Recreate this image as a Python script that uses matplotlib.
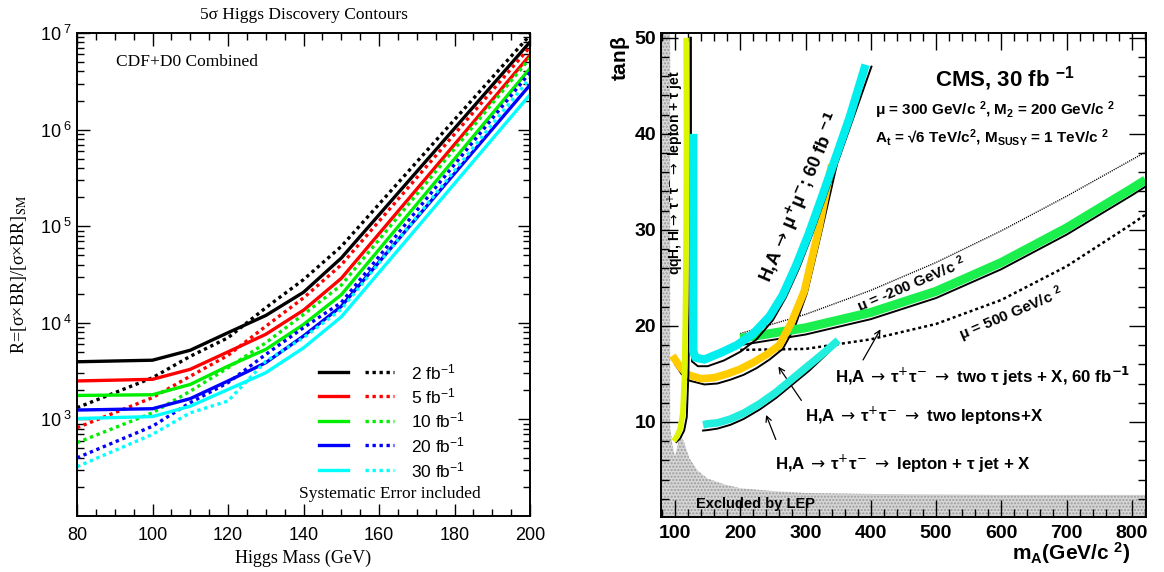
import matplotlib
matplotlib.use('Agg')
import matplotlib.pyplot as plt
import numpy as np
from matplotlib.ticker import MultipleLocator, FixedLocator, LogLocator, NullFormatter, FuncFormatter
from matplotlib.patches import Polygon

plt.rcParams['mathtext.fontset'] = 'custom'
plt.rcParams['mathtext.rm'] = 'Liberation Sans'
plt.rcParams['mathtext.it'] = 'Liberation Sans:italic'
plt.rcParams['mathtext.bf'] = 'Liberation Sans:bold'
plt.rcParams['font.family'] = ['Liberation Sans', 'DejaVu Sans']

# ---------------- Left panel data (Tevatron) ----------------
mass = [80, 100, 110, 120, 130, 140, 150, 200]
lumi_labels = ['2', '5', '10', '20', '30']
series_colors = ['black', '#ff0000', '#00ee00', '#0000ff', '#00ffff']
R_solid_2 = [3950, 4100, 5200, 7900, 11900, 20700, 46800, 8.07e6]
R_dot_2 = [1320, 2700, 4500, 7000, 14300, 28000, 61700, 9.5e6]
R_solid_5 = [2500, 2600, 3300, 5000, 7600, 13500, 28800, 5.9e6]
R_dot_5 = [820, 1680, 2800, 4600, 9200, 18100, 39800, 7.16e6]
R_solid_10 = [1770, 1800, 2300, 3560, 5300, 9600, 19500, 4.3e6]
R_dot_10 = [574, 1170, 1960, 3420, 6200, 12200, 24500, 5.5e6]
R_solid_20 = [1250, 1290, 1640, 2500, 3860, 7300, 14800, 2.9e6]
R_dot_20 = [400, 850, 1490, 2400, 4700, 8900, 16200, 3.9e6]
R_solid_30 = [1020, 1070, 1370, 2040, 3040, 5500, 11500, 2.3e6]
R_dot_30 = [324, 700, 1170, 1550, 4000, 7000, 13800, 3.4e6]
solid_series = [R_solid_2, R_solid_5, R_solid_10, R_solid_20, R_solid_30]
dot_series = [R_dot_2, R_dot_5, R_dot_10, R_dot_20, R_dot_30]

# ---------------- Right panel data (CMS) ----------------
# LEP excluded region boundary
lep_mA = [78.5, 92.5, 92.5, 96, 100, 104, 108, 114, 122, 135, 150, 175, 200, 250, 300, 400, 500, 600, 700, 821, 821, 78.5]
lep_tb = [50.5, 50.5, 9.5, 7.6, 6.4, 7.6, 8.6, 7.9, 6.2, 4.9, 4.1, 3.5, 3.1, 2.8, 2.6, 2.5, 2.45, 2.4, 2.4, 2.4, 0.15, 0.15]
# qqH, H -> tau tau -> lepton + tau jet
qqh_mA = [117, 117.5, 117, 116, 114.5, 112, 108, 103, 98]
qqh_tb = [50, 40, 30, 22, 15, 11, 9.3, 8.5, 8.0]
qqh_edge_mA = [124, 124, 123, 122, 120.5, 118, 114, 108, 102]
qqh_edge_tb = [50, 40, 30, 22, 15, 10.5, 9.1, 8.3, 7.9]
# H,A -> mu mu (60 fb-1)
mm_mA = [128, 128, 131, 145, 170, 195, 220, 245, 265, 285, 305, 325, 345, 368, 392]
mm_tb = [40, 17.4, 16.7, 16.5, 17.2, 18.0, 19.2, 21.0, 23.2, 26.2, 29.6, 33.4, 37.3, 41.8, 47.2]
mm_edge_mA = [124, 124.5, 126, 135, 150, 175, 200, 225, 250, 270, 290, 310, 330, 350, 375, 401]
mm_edge_tb = [50, 25, 16.3, 15.8, 15.8, 16.4, 17.3, 18.6, 20.6, 23.0, 26.0, 29.5, 33.3, 37.2, 42.0, 47.0]
# H,A -> tau tau -> two leptons + X
ll_mA = [96, 108, 120, 140, 160, 180, 200, 220, 240, 260, 278, 298, 320, 340]
ll_tb = [16.9, 15.7, 14.9, 14.5, 14.6, 15.0, 15.5, 16.2, 17.0, 18.0, 20.3, 23.6, 30.0, 36.8]
ll_edge_mA = [100, 110, 122, 145, 165, 185, 205, 225, 245, 265, 283, 302, 325, 348]
ll_edge_tb = [16.0, 15.0, 14.3, 13.9, 14.0, 14.4, 14.9, 15.6, 16.5, 17.6, 19.8, 23.4, 30.0, 36.8]
# H,A -> tau tau -> lepton + tau jet + X
lj_mA = [143, 150, 165, 185, 205, 230, 255, 280, 305, 330, 350]
lj_tb = [9.7, 9.8, 9.9, 10.3, 10.9, 11.9, 13.1, 14.5, 15.9, 17.3, 18.5]
lj_edge_mA = [143, 150, 165, 185, 205, 230, 255, 280, 305, 330, 346]
lj_edge_tb = [9.1, 9.15, 9.3, 9.7, 10.3, 11.3, 12.5, 13.9, 15.3, 16.9, 18.0]
# H,A -> tau tau -> two tau jets + X (60 fb-1)
jj_mA = [200, 300, 400, 500, 600, 700, 800, 821]
jj_tb = [18.7, 19.8, 21.4, 23.6, 26.6, 30.2, 34.3, 35.2]
jj_edge_tb = [18.0, 19.1, 20.7, 22.9, 25.9, 29.5, 33.6, 34.5]
# mu = -200 and mu = 500 contours
mum200_mA = [200, 300, 400, 500, 600, 700, 800, 821]
mum200_tb = [19.2, 21.2, 23.7, 26.6, 29.9, 33.5, 37.3, 38.1]
mu500_mA = [200, 300, 400, 500, 600, 700, 800, 821]
mu500_tb = [17.5, 17.6, 18.6, 20.2, 22.7, 26.2, 30.6, 31.6]

fig = plt.figure(figsize=(11.64, 5.72), dpi=100)
ax1 = fig.add_axes([77/1164, 1-516/572, 453/1164, 483/572])
ax2 = fig.add_axes([661/1164, 1-516.5/572, 484.5/1164, 483.5/572])

# ================= Left panel =================
for c, ys, yd in zip(series_colors, solid_series, dot_series):
    ax1.plot(mass, ys, color=c, lw=2.4, solid_joinstyle='miter')
    ax1.plot(mass, yd, color=c, lw=2.4, linestyle=(0, (1, 1.1)))
ax1.set_yscale('log')
ax1.set_xlim(80, 200)
ax1.set_ylim(1e2, 1e7)
ax1.xaxis.set_major_locator(MultipleLocator(20))
ax1.xaxis.set_minor_locator(MultipleLocator(5))
ax1.yaxis.set_major_locator(FixedLocator([1e3, 1e4, 1e5, 1e6, 1e7]))
ax1.yaxis.set_minor_locator(LogLocator(base=10, subs=np.arange(2, 10)))
ax1.yaxis.set_minor_formatter(NullFormatter())
ax1.yaxis.set_major_formatter(FuncFormatter(lambda v, p: r'$\mathregular{10^{\ %d}}$' % int(round(np.log10(v)))))
ax1.tick_params(which='both', direction='in', top=True, right=True, width=1.0, labelsize=13)
ax1.tick_params(which='major', length=9)
ax1.tick_params(which='minor', length=5)
ax1.tick_params(axis='x', pad=8)
for s in ax1.spines.values():
    s.set_linewidth(1.4)
ax1.set_title('5σ Higgs Discovery Contours', family='Liberation Serif', fontsize=12.5, pad=10)
ax1.set_xlabel('Higgs Mass (GeV)', family='Liberation Serif', fontsize=13, labelpad=4)
ax1.set_ylabel(r'R=[σ×BR]/[σ×BR]$_{\mathrm{SM}}$', family='Liberation Serif', math_fontfamily='stix', fontsize=13, labelpad=8)
ax1.text(0.085, 0.94, 'CDF+D0 Combined', transform=ax1.transAxes, family='Liberation Serif', fontsize=12.5, va='center')
ax1.text(0.49, 0.045, 'Systematic Error included', transform=ax1.transAxes, family='Liberation Serif', fontsize=12.5, va='center')
# legend (solid + dotted samples)
rows = [0.298, 0.248, 0.197, 0.147, 0.095]
for c, lab, yr in zip(series_colors, lumi_labels, rows):
    ax1.plot([0.534, 0.598], [yr, yr], color=c, lw=2.4, transform=ax1.transAxes, clip_on=False)
    ax1.plot([0.636, 0.700], [yr, yr], color=c, lw=2.4, linestyle=(0, (1, 1.1)), transform=ax1.transAxes, clip_on=False)
    ax1.text(0.737, yr, lab + r' fb$^{\mathregular{-1}}$', transform=ax1.transAxes, fontsize=12.5, va='center')

# ================= Right panel =================
ax2.set_xlim(78.5, 821)
ax2.set_ylim(0.15, 50.5)
poly = Polygon(np.column_stack([lep_mA, lep_tb]), closed=True, facecolor='#d6d6d6',
               edgecolor='#9a9a9a', hatch='.....', linewidth=0, zorder=1)
ax2.add_patch(poly)

ax2.plot(mum200_mA, mum200_tb, color='black', lw=1.0, linestyle=(0, (0.8, 0.8)), zorder=3)
ax2.plot(mu500_mA, mu500_tb, color='black', lw=1.8, linestyle=(0, (1.2, 1.2)), zorder=3)

ax2.plot(jj_mA, jj_edge_tb, color='black', lw=1.4, zorder=3)
ax2.plot(jj_mA, jj_tb, color='#1aef4d', lw=6.5, zorder=4, solid_capstyle='butt')

ax2.plot(ll_edge_mA, ll_edge_tb, color='black', lw=1.4, zorder=3)
ax2.plot(ll_mA, ll_tb, color='#ffcc00', lw=5.5, zorder=4, solid_capstyle='butt')

ax2.plot(lj_edge_mA, lj_edge_tb, color='black', lw=1.4, zorder=3)
ax2.plot(lj_mA, lj_tb, color='#22eedd', lw=5.5, zorder=4, solid_capstyle='butt')

ax2.plot(mm_edge_mA, mm_edge_tb, color='black', lw=1.4, zorder=5)
ax2.plot(mm_mA, mm_tb, color='#00eeee', lw=6.0, zorder=6, solid_capstyle='butt')

ax2.plot(qqh_edge_mA, qqh_edge_tb, color='black', lw=1.4, zorder=5)
ax2.plot(qqh_mA, qqh_tb, color='#ddf500', lw=4.0, zorder=6, solid_capstyle='butt')

ax2.xaxis.set_major_locator(MultipleLocator(100))
ax2.xaxis.set_minor_locator(MultipleLocator(20))
ax2.yaxis.set_major_locator(MultipleLocator(10))
ax2.yaxis.set_minor_locator(MultipleLocator(2))
ax2.tick_params(which='both', direction='in', top=True, right=True, width=1.0, labelsize=14)
ax2.tick_params(which='major', length=12)
ax2.tick_params(which='minor', length=6)
ax2.tick_params(axis='x', pad=6)
for lab in ax2.get_xticklabels() + ax2.get_yticklabels():
    lab.set_fontweight('bold')
for s in ax2.spines.values():
    s.set_linewidth(1.4)
    s.set_zorder(10)

fig.text(621/1164, 1-58/572, r'tan$\mathregular{\beta}$', rotation=90, fontsize=15, fontweight='bold', ha='center', va='center')
fig.text(1131/1164, 1-553/572, r'm$_{\mathbf{A}}$(GeV/c $^{\mathbf{2}}$)', fontsize=15, fontweight='bold', ha='right', va='center')

ax2.text(605, 45.8, r'CMS, 30 fb $^{\mathbf{-1}}$', fontsize=16, fontweight='bold', ha='center', va='center')
ax2.text(406, 42.5, r'μ = 300 GeV/c $^{\mathbf{2}}$, M$_{\mathbf{2}}$ = 200 GeV/c $^{\mathbf{2}}$', fontsize=11, fontweight='bold', ha='left', va='center')
ax2.text(406, 39.6, r'A$_{\mathbf{t}}$ = √6 TeV/c$^{\mathbf{2}}$, M$_{\mathbf{SUSY}}$ = 1 TeV/c $^{\mathbf{2}}$', fontsize=11, fontweight='bold', ha='left', va='center')

ax2.text(462, 24.2, r'μ = -200 GeV/c $^{\mathbf{2}}$', fontsize=11, fontweight='bold', ha='center', va='center', rotation=23)
ax2.text(615, 21.2, r'μ = 500 GeV/c $^{\mathbf{2}}$', fontsize=11, fontweight='bold', ha='center', va='center', rotation=23)

arrow_kw = dict(fontsize=12.2, fontweight='bold', math_fontfamily='dejavusans')
ax2.text(293, 33.4, r'H,A$\,\rightarrow\,$μ$^{\mathbf{+}}$μ$^{\mathbf{-}}$; 60 fb $^{\mathbf{-1}}$',
         ha='center', va='center', rotation=67, fontsize=13, fontweight='bold', math_fontfamily='dejavusans')
ax2.text(101, 36.0, r'qqH, H$\,\rightarrow\,$τ$^{+}$τ$^{-}\,\rightarrow$ lepton + τ jet',
         fontsize=10, fontweight='bold', math_fontfamily='dejavusans', ha='center', va='center', rotation=90)

ax2.text(345, 14.7, r'H,A$\,\rightarrow\,$τ$^{+}$τ$^{-}$ $\rightarrow$ two τ jets + X, 60 fb$^{\mathbf{-1}}$',
         ha='left', va='center', **arrow_kw)
ax2.text(299, 10.6, r'H,A$\,\rightarrow\,$τ$^{+}$τ$^{-}$ $\rightarrow$ two leptons+X',
         ha='left', va='center', **arrow_kw)
ax2.text(253, 5.6, r'H,A$\,\rightarrow\,$τ$^{+}$τ$^{-}$ $\rightarrow$ lepton + τ jet + X',
         ha='left', va='center', **arrow_kw)
ax2.text(132, 1.4, 'Excluded by LEP', fontsize=10.5, fontweight='bold', ha='left', va='center', zorder=7)

ax2.annotate('', xy=(417, 19.9), xytext=(386, 16.2), arrowprops=dict(arrowstyle='->', lw=0.9, color='black'))
ax2.annotate('', xy=(256, 16.0), xytext=(296, 12.0), arrowprops=dict(arrowstyle='->', lw=0.9, color='black'))
ax2.annotate('', xy=(238, 11.0), xytext=(256, 7.9), arrowprops=dict(arrowstyle='->', lw=0.9, color='black'))

fig.savefig('out.png', dpi=100)
